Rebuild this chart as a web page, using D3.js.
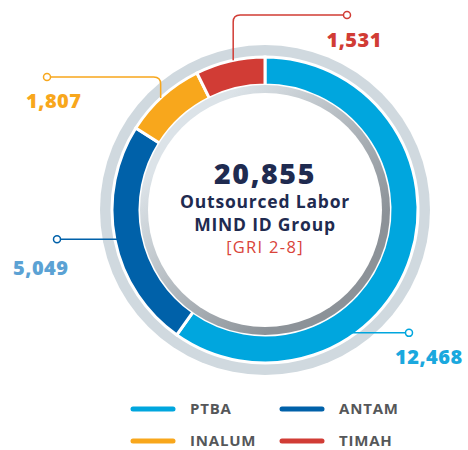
<!DOCTYPE html>
<html>
<head>
<meta charset="utf-8">
<script src="https://cdn.jsdelivr.net/npm/d3@7"></script>
<style>
  body { margin: 0; background: #fff; }
  text { font-family: "Open Sans", sans-serif; }
</style>
</head>
<body>
<div id="vis"></div>
<script>
var companies = ['PTBA', 'ANTAM', 'INALUM', 'TIMAH'];
var workers = [12468, 5049, 1807, 1531];
var colors = ['#00a6de', '#0061a9', '#f8a71c', '#d13c35'];
var labelColors = ['#1aa8de', '#5ba2d4', '#f8a71c', '#d13c35'];
var totalLabel = '20,855';
var titleLines = ['Outsourced Labor', 'MIND ID Group'];
var subTitle = '[GRI 2-8]';

var width = 468;
var height = 450;
var center = { x: 265, y: 210 };

var svg = d3.select('#vis').append('svg')
  .attr('width', width)
  .attr('height', height);

var defs = svg.append('defs');
var rimGrad = defs.append('linearGradient')
  .attr('id', 'rim')
  .attr('x1', '0').attr('y1', '0')
  .attr('x2', '1').attr('y2', '1');
rimGrad.append('stop').attr('offset', '0.2').attr('stop-color', '#dce3e8');
rimGrad.append('stop').attr('offset', '0.75').attr('stop-color', '#8c9298');

var g = svg.append('g')
  .attr('transform', 'translate(' + center.x + ',' + center.y + ')');

// outer gray ring
g.append('circle').attr('r', 165).attr('fill', '#d0d9df');

var pie = d3.pie().sort(null).value(function (d) { return d; });
var arcs = pie(workers);

var arc = d3.arc().innerRadius(125).outerRadius(153);

g.selectAll('.slice')
  .data(arcs)
  .enter().append('path')
  .attr('class', 'slice')
  .attr('d', arc)
  .attr('fill', function (d, i) { return colors[i]; })
  .attr('stroke', '#fff')
  .attr('stroke-width', 3);

// inner shaded rim + white disk
g.append('circle').attr('r', 125).attr('fill', 'url(#rim)');
g.append('circle').attr('r', 117).attr('fill', '#fff');

// centre text
g.append('text')
  .attr('y', -26)
  .attr('text-anchor', 'middle')
  .attr('fill', '#1f2b50')
  .attr('font-size', 28.5)
  .attr('font-weight', 800)
  .attr('letter-spacing', 1.6)
  .text(totalLabel);

g.selectAll('.title')
  .data(titleLines)
  .enter().append('text')
  .attr('class', 'title')
  .attr('y', function (d, i) { return -2 + i * 23; })
  .attr('text-anchor', 'middle')
  .attr('fill', '#1f2b50')
  .attr('font-size', 17.5)
  .attr('font-weight', 700)
  .attr('letter-spacing', 0.8)
  .text(function (d) { return d; });

g.append('text')
  .attr('y', 43)
  .attr('text-anchor', 'middle')
  .attr('fill', '#d9443a')
  .attr('font-size', 16.5)
  .attr('letter-spacing', 1.3)
  .text(subTitle);

// leader lines: anchor angle on the ring, elbow and end points, label spot
var leaders = [
  { angle: 145, elbowY: null, endX: 409, lx: 395, ly: 364, anchor: 'start' },
  { angle: null, elbowY: null, endX: 57, lx: 13, ly: 275, anchor: 'start' },
  { angle: 317, elbowY: 77, endX: 47, lx: 26, ly: 108, anchor: 'start' },
  { angle: 348, elbowY: 15, endX: 347, lx: 382, ly: 47, anchor: 'end' }
];

function anchorAngle(d, i) {
  var L = leaders[i];
  return L.angle !== null ? L.angle * Math.PI / 180 : (d.startAngle + d.endAngle) / 2;
}

function leaderPath(d, i) {
  var L = leaders[i];
  var a = anchorAngle(d, i);
  var r = L.elbowY !== null ? 153 : 150;
  var x0 = center.x + r * Math.sin(a);
  var y0 = center.y - r * Math.cos(a);
  if (L.elbowY === null) {
    return 'M' + x0 + ',' + y0 + 'H' + L.endX;
  }
  var rc = 7;
  var dir = L.endX > x0 ? 1 : -1;
  return 'M' + x0 + ',' + y0 +
    'V' + (L.elbowY + rc) +
    'Q' + x0 + ',' + L.elbowY + ' ' + (x0 + dir * rc) + ',' + L.elbowY +
    'H' + L.endX;
}

function endY(d, i) {
  var L = leaders[i];
  if (L.elbowY !== null) return L.elbowY;
  return center.y - 150 * Math.cos(anchorAngle(d, i));
}

svg.selectAll('.leader')
  .data(arcs)
  .enter().append('path')
  .attr('class', 'leader')
  .attr('d', leaderPath)
  .attr('fill', 'none')
  .attr('stroke', function (d, i) { return colors[i]; })
  .attr('stroke-width', 1.5);

svg.selectAll('.dot')
  .data(arcs)
  .enter().append('circle')
  .attr('class', 'dot')
  .attr('cx', function (d, i) { return leaders[i].endX; })
  .attr('cy', endY)
  .attr('r', 3.5)
  .attr('fill', '#fff')
  .attr('stroke', function (d, i) { return colors[i]; })
  .attr('stroke-width', 1.5);

svg.selectAll('.value')
  .data(arcs)
  .enter().append('text')
  .attr('class', 'value')
  .attr('x', function (d, i) { return leaders[i].lx; })
  .attr('y', function (d, i) { return leaders[i].ly; })
  .attr('text-anchor', function (d, i) { return leaders[i].anchor; })
  .attr('fill', function (d, i) { return labelColors[i]; })
  .attr('font-size', 20)
  .attr('font-weight', 800)
  .attr('letter-spacing', 0.5)
  .text(function (d) { return d3.format(',')(d.data); });

// legend
var legend = svg.selectAll('.legend')
  .data(companies)
  .enter().append('g')
  .attr('class', 'legend')
  .attr('transform', function (d, i) {
    return 'translate(' + (133 + (i % 2) * 149) + ',' + (409 + Math.floor(i / 2) * 32) + ')';
  });

legend.append('line')
  .attr('x1', 0).attr('x2', 40)
  .attr('stroke', function (d, i) { return colors[i]; })
  .attr('stroke-width', 5)
  .attr('stroke-linecap', 'round');

legend.append('text')
  .attr('x', 57)
  .attr('y', 5)
  .attr('fill', '#555759')
  .attr('font-size', 15)
  .attr('font-weight', 700)
  .attr('letter-spacing', 0.8)
  .text(function (d) { return d; });
</script>
</body>
</html>
